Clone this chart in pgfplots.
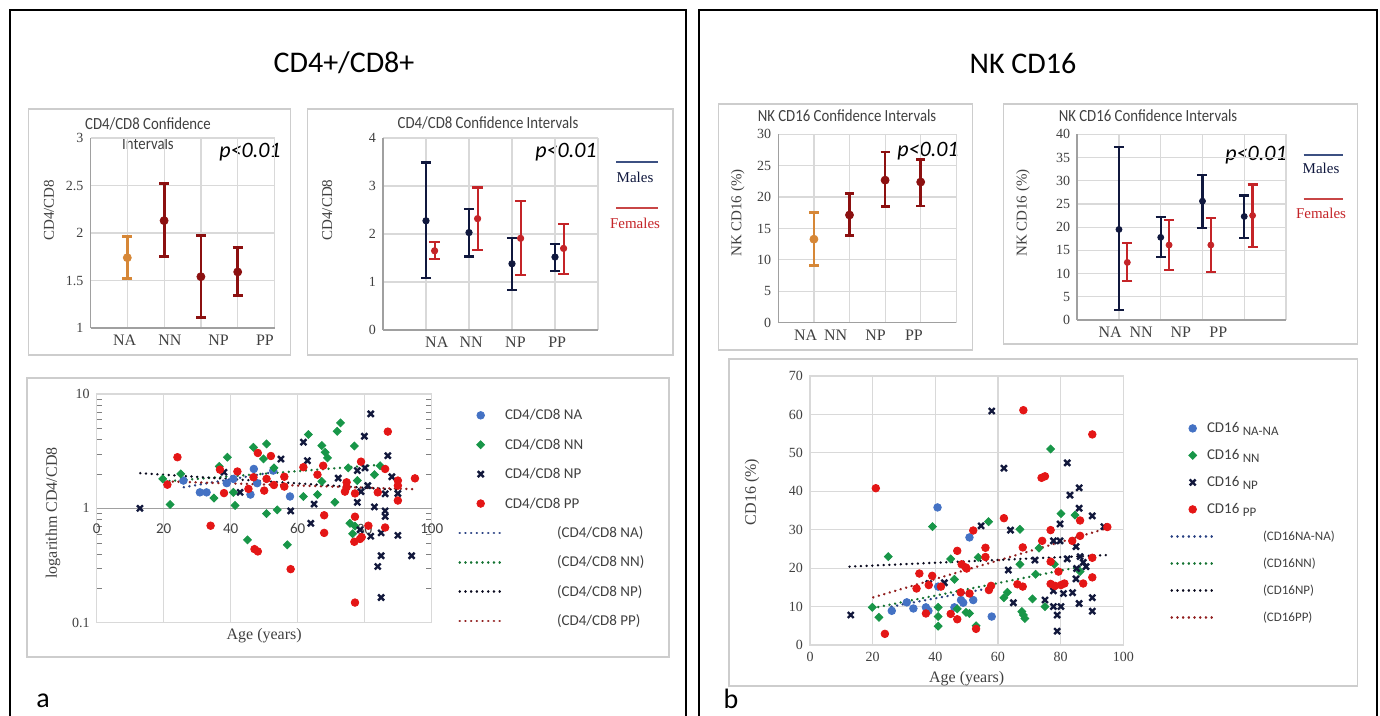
\documentclass[border=0pt]{standalone}
\usepackage{fontspec}
\setmainfont{Liberation Serif}
\newfontfamily\cfont{Carlito}
\newfontfamily\cfontn{Carlito}[FakeStretch=0.87]
\usepackage{pgfplots}
\pgfplotsset{compat=1.18}
\definecolor{cidark}{RGB}{140,16,16}
\definecolor{ciorange}{RGB}{214,135,55}
\definecolor{navy}{RGB}{16,24,62}
\definecolor{fem}{RGB}{196,36,40}
\definecolor{sblue}{RGB}{68,114,196}
\definecolor{sgreen}{RGB}{24,150,72}
\definecolor{sred}{RGB}{228,22,22}
\definecolor{snavy}{RGB}{18,24,60}
\definecolor{gridc}{RGB}{217,217,217}
\definecolor{axc}{RGB}{160,160,160}
\definecolor{boxc}{RGB}{205,205,205}
\definecolor{txt}{RGB}{64,64,64}
\definecolor{tnavy}{RGB}{40,64,130}
\definecolor{tgreen}{RGB}{20,115,50}
\definecolor{tblack}{RGB}{10,10,30}
\definecolor{tred}{RGB}{145,30,30}
\definecolor{mline}{RGB}{60,80,130}
\definecolor{fline}{RGB}{200,70,70}
\pgfplotsset{
  ci/.style={scale only axis, anchor=north west, xmin=0, xmax=5,
    xtick={1,2,3,4,5}, xticklabels={}, xmajorgrids, ymajorgrids,
    grid style={draw=gridc, line width=0.6pt},
    axis x line*=bottom, axis y line*=left,
    axis line style={draw=axc, line width=0.8pt},
    major tick length=0pt,
    yticklabel style={font=\fontsize{7}{8}\selectfont, text=txt},
    /pgf/number format/assume math mode=true,
    extra x tick style={grid=none, major tick length=0pt,
      xticklabel style={font=\fontsize{8}{9}\selectfont, text=txt}},
    ylabel style={font=\fontsize{7.5}{9}\selectfont, text=txt, anchor=center},
    clip=false},
  sc/.style={scale only axis, anchor=north west, xmin=0, xmax=100,
    xtick={0,20,...,100}, xmajorgrids, ymajorgrids,
    grid style={draw=gridc, line width=0.6pt},
    axis line style={draw=gridc, line width=0.6pt},
    major tick length=0pt,
    /pgf/number format/assume math mode=true,
    xlabel style={font=\fontsize{8}{9}\selectfont, text=txt, anchor=center},
    ylabel style={font=\fontsize{8}{9}\selectfont, text=txt, anchor=center},
    clip=false},
  mleg/.style={legend image code/.code={\draw[mark repeat=2,mark phase=2,##1] plot coordinates {(0pt,0pt) (10.5pt,0pt) (21pt,0pt)};}},
  lleg/.style={legend image code/.code={\draw[##1] (0pt,0pt) -- (21pt,0pt);}},
  sNA/.style={only marks, mark=*, mark size=1.9pt, color=sblue, mleg},
  sNN/.style={only marks, mark=square*, mark size=1.4pt, mark options={rotate=45}, color=sgreen, mleg},
  sNP/.style={only marks, mark=x, mark size=2.1pt, line width=1.2pt, color=snavy, mleg},
  sPP/.style={only marks, mark=*, mark size=1.9pt, color=sred, mleg},
  tr/.style={no markers, line width=1.3pt, line cap=round, dash pattern=on 0.05pt off 2.8pt, color=#1, lleg},
}
\begin{document}
\begin{tikzpicture}
\useasboundingbox (0,0) rectangle (690pt,-358pt);
\begin{scope}[x=0.5pt,y=-0.5pt]
  % outer frames
  \draw[line width=1pt] (10,730) -- (10,10) -- (686,10) -- (686,730);
  \draw[line width=1pt] (699,730) -- (699,10) -- (1377,10) -- (1377,730);
  % inner boxes
  \draw[boxc, line width=0.7pt] (28.7,109) rectangle (290.5,355);
  \draw[boxc, line width=0.7pt] (307.7,109) rectangle (673,355);
  \draw[boxc, line width=0.7pt] (27,378) rectangle (669,657);
  \draw[boxc, line width=0.7pt] (718.7,104) rectangle (972.6,350);
  \draw[boxc, line width=0.7pt] (1003.5,104) rectangle (1357.5,344);
  \draw[boxc, line width=0.7pt] (729,359) rectangle (1357.5,686);
  % titles
  \node[font=\cfont\fontsize{15}{18}\selectfont] at (344,63) {CD4+/CD8+};
  \node[font=\cfont\fontsize{15}{18}\selectfont] at (1023,63) {NK CD16};
  \node[font=\cfontn\fontsize{8.5}{10}\selectfont, text=txt] at (148,124) {CD4/CD8 Confidence};
  \node[font=\cfontn\fontsize{8.5}{10}\selectfont, text=txt] at (148,144) {Intervals};
  \node[font=\cfontn\fontsize{8.5}{10}\selectfont, text=txt] at (488,123) {CD4/CD8 Confidence Intervals};
  \node[font=\cfontn\fontsize{8.5}{10}\selectfont, text=txt] at (847,116) {NK CD16 Confidence Intervals};
  \node[font=\cfontn\fontsize{8.5}{10}\selectfont, text=txt] at (1148,116) {NK CD16 Confidence Intervals};
  \node[font=\cfont\itshape\fontsize{11}{13}\selectfont] at (250,152) {p<0.01};
  \node[font=\cfont\itshape\fontsize{11}{13}\selectfont] at (566,152) {p<0.01};
  \node[font=\cfont\itshape\fontsize{11}{13}\selectfont] at (928,151) {p<0.01};
  \node[font=\cfont\itshape\fontsize{11}{13}\selectfont] at (1256,155) {p<0.01};
  % Males / Females keys
  \draw[mline, line width=0.8pt] (616,162) -- (658,162);
  \node[font=\fontsize{7.5}{9}\selectfont, text=navy] at (635,177) {Males};
  \draw[fline, line width=0.8pt] (616,208) -- (658,208);
  \node[font=\fontsize{7.5}{9}\selectfont, text=fem] at (635,223) {Females};
  \draw[mline, line width=0.8pt] (1303.7,155) -- (1343.4,155);
  \node[font=\fontsize{7.5}{9}\selectfont, text=navy] at (1321,168) {Males};
  \draw[fline, line width=0.8pt] (1303.7,199) -- (1343.4,199);
  \node[font=\fontsize{7.5}{9}\selectfont, text=fem] at (1321,213) {Females};
  % panel letters
  \node[font=\cfont\fontsize{14}{16}\selectfont] at (43,701) {a};
  \node[font=\cfont\fontsize{14}{16}\selectfont] at (731,699) {b};
\end{scope}

% ---------- CI-A
\begin{axis}[ci, at={(45.25pt,-69pt)}, width=92pt, height=95pt, ymin=1, ymax=3,
  ytick={1,1.5,2,2.5,3},
  extra x ticks={0.93,2.16,3.48,4.74}, extra x tick labels={NA,NN,NP,PP},
  ylabel={CD4/CD8}, ylabel style={at={(axis description cs:-0.226,0.62)}}]
\addplot[color=ciorange, only marks, mark=*, mark size=2pt,
  error bars/.cd, y dir=both, y explicit,
  error bar style={line width=1.4pt, color=ciorange},
  error mark options={rotate=90, line width=1.4pt, mark size=2.5pt, color=ciorange}]
  coordinates {(1,1.74) += (0,0.225) -= (0,0.215)};
\addplot[color=cidark, only marks, mark=*, mark size=2pt,
  error bars/.cd, y dir=both, y explicit,
  error bar style={line width=1.4pt, color=cidark},
  error mark options={rotate=90, line width=1.4pt, mark size=2.5pt, color=cidark}]
  coordinates {(2,2.13) += (0,0.39) -= (0,0.375)
               (3,1.54) += (0,0.435) -= (0,0.43)
               (4,1.59) += (0,0.26) -= (0,0.25)};
\end{axis}

% ---------- CI-B
\begin{axis}[ci, at={(191.5pt,-69pt)}, width=107.5pt, height=96pt, ymin=0, ymax=4,
  ytick={0,1,2,3,4},
  extra x ticks={1.25,2.05,3.08,4.05}, extra x tick labels={NA,NN,NP,PP},
  ylabel={CD4/CD8}, ylabel style={at={(axis description cs:-0.26,0.625)}}]
\addplot[color=navy, only marks, mark=*, mark size=1.6pt,
  error bars/.cd, y dir=both, y explicit,
  error bar style={line width=1.1pt, color=navy},
  error mark options={rotate=90, line width=1.1pt, mark size=2.6pt, color=navy}]
  coordinates {(1,2.275) += (0,1.215) -= (0,1.195)
               (2,2.03) += (0,0.49) -= (0,0.5)
               (3,1.38) += (0,0.53) -= (0,0.545)
               (4,1.52) += (0,0.27) -= (0,0.29)};
\addplot[color=fem, only marks, mark=*, mark size=1.6pt,
  error bars/.cd, y dir=both, y explicit,
  error bar style={line width=1.1pt, color=fem},
  error mark options={rotate=90, line width=1.1pt, mark size=2.6pt, color=fem}]
  coordinates {(1.2,1.65) += (0,0.19) -= (0,0.175)
               (2.2,2.32) += (0,0.65) -= (0,0.65)
               (3.2,1.91) += (0,0.77) -= (0,0.77)
               (4.2,1.70) += (0,0.51) -= (0,0.53)};
\end{axis}

% ---------- CI-C
\begin{axis}[ci, at={(389.15pt,-67.15pt)}, width=89pt, height=94.2pt, ymin=0, ymax=30,
  ytick={0,5,...,30},
  extra x ticks={0.77,1.61,2.73,3.81}, extra x tick labels={NA,NN,NP,PP},
  ylabel={NK CD16 (\%)}, ylabel style={at={(axis description cs:-0.228,0.582)}}]
\addplot[color=ciorange, only marks, mark=*, mark size=2pt,
  error bars/.cd, y dir=both, y explicit,
  error bar style={line width=1.3pt, color=ciorange},
  error mark options={rotate=90, line width=1.3pt, mark size=2.3pt, color=ciorange}]
  coordinates {(1,13.3) += (0,4.2) -= (0,4.2)};
\addplot[color=cidark, only marks, mark=*, mark size=2pt,
  error bars/.cd, y dir=both, y explicit,
  error bar style={line width=1.3pt, color=cidark},
  error mark options={rotate=90, line width=1.3pt, mark size=2.3pt, color=cidark}]
  coordinates {(2,17.15) += (0,3.4) -= (0,3.25)
               (3,22.7) += (0,4.5) -= (0,4.2)
               (4,22.4) += (0,3.6) -= (0,3.8)};
\end{axis}

% ---------- CI-D
\begin{axis}[ci, at={(538.6pt,-67.15pt)}, width=104.4pt, height=92.85pt, ymin=0, ymax=40,
  ytick={0,5,...,40},
  extra x ticks={0.79,1.53,2.48,3.38}, extra x tick labels={NA,NN,NP,PP},
  ylabel={NK CD16 (\%)}, ylabel style={at={(axis description cs:-0.26,0.576)}}]
\addplot[color=navy, only marks, mark=*, mark size=1.5pt,
  error bars/.cd, y dir=both, y explicit,
  error bar style={line width=1.1pt, color=navy},
  error mark options={rotate=90, line width=1.1pt, mark size=2.5pt, color=navy}]
  coordinates {(1,19.5) += (0,17.8) -= (0,17.4)
               (2,17.8) += (0,4.3) -= (0,4.3)
               (3,25.6) += (0,5.6) -= (0,5.7)
               (4,22.3) += (0,4.5) -= (0,4.7)};
\addplot[color=fem, only marks, mark=*, mark size=1.5pt,
  error bars/.cd, y dir=both, y explicit,
  error bar style={line width=1.1pt, color=fem},
  error mark options={rotate=90, line width=1.1pt, mark size=2.5pt, color=fem}]
  coordinates {(1.2,12.4) += (0,4.1) -= (0,4.0)
               (2.2,16.15) += (0,5.45) -= (0,5.35)
               (3.2,16.15) += (0,5.75) -= (0,5.75)
               (4.2,22.5) += (0,6.7) -= (0,6.7)};
\end{axis}

% ---------- Scatter left (log)
\begin{axis}[sc, at={(48.35pt,-197pt)}, width=167.5pt, height=114.35pt,
  ymode=log, ymin=0.1, ymax=10, ytick={0.1,1,10}, log ticks with fixed point,
  xticklabel style={yshift=53pt, font=\cfont\fontsize{7.5}{8}\selectfont, text=txt},
  yticklabel style={font=\fontsize{7}{8}\selectfont, text=txt},
  extra y ticks={1}, extra y tick labels={},
  extra y tick style={grid style={draw=axc, line width=0.8pt}},
  xlabel={Age (years)}, xlabel style={at={(axis description cs:0.5,-0.058)}},
  ylabel={logarithm CD4/CD8}, ylabel style={at={(axis description cs:-0.13,0.48)}},
  legend style={at={(axis description cs:1.0785,0.95)}, anchor=north west, draw=none, fill=none,
    inner sep=0pt, row sep=5.2pt, font=\cfont\fontsize{7.5}{9}\selectfont, text=txt,
    nodes={text height=6pt, text depth=1.5pt, inner sep=1pt}},
  legend cell align=left]
\addplot[sNA] coordinates {(25.9,1.75) (30.8,1.38) (32.8,1.38) (38.8,1.66) (40.8,1.81) (45.9,1.32) (46.9,2.21) (47.9,1.66) (52.7,2.14) (57.7,1.27)};
\addplot[sNN] coordinates {(19.7,1.81) (21.9,1.08) (25.1,2.0) (35.0,1.23) (36.6,2.33) (39.0,2.80) (40.8,1.38) (41.3,1.06) (45.0,0.53) (46.8,3.42) (49.8,2.71) (50.7,3.66) (50.7,0.90) (52.9,2.26) (53.9,0.97) (56.9,0.48) (61.7,1.27) (63.2,4.42) (65.9,1.32) (67.2,3.54) (67.2,1.72) (68.2,3.09) (68.9,2.76) (71.1,1.13) (71.8,4.72) (72.8,5.59) (75.1,2.26) (75.6,0.74) (76.4,0.60) (76.9,3.51) (77.1,0.70) (77.8,1.75) (82.9,1.97) (84.6,2.36)};
\addplot[sNP] coordinates {(12.9,1.0) (38.0,2.07) (42.8,1.38) (55.0,2.70) (57.9,0.95) (61.7,3.79) (62.9,2.61) (63.9,0.74) (64.9,1.09) (72.1,1.84) (77.8,2.14) (77.8,1.13) (78.9,1.40) (78.6,0.65) (79.9,4.27) (80.1,2.26) (80.9,1.58) (81.8,6.70) (81.8,0.57) (82.9,1.03) (83.9,0.31) (84.9,0.385) (84.9,0.166) (84.9,0.61) (86.1,0.95) (86.1,0.85) (86.1,1.34) (86.9,2.89) (88.1,1.89) (89.9,0.58) (89.9,1.35) (94.0,0.385)};
\addplot[sPP] coordinates {(21.1,1.61) (24.1,2.80) (34.0,0.705) (36.8,2.18) (38.0,1.36) (42.0,2.10) (45.3,1.48) (46.8,1.87) (47.1,0.44) (48.1,0.42) (48.1,3.05) (50.0,1.43) (50.7,1.81) (52.0,2.87) (52.9,1.60) (56.0,1.89) (56.0,1.55) (57.9,0.294) (61.7,2.29) (65.9,1.97) (67.6,2.36) (67.9,0.87) (67.9,0.61) (74.1,1.40) (74.6,1.69) (74.6,1.53) (76.9,0.51) (77.1,0.150) (77.1,0.845) (77.1,1.35) (78.6,0.54) (79.1,0.56) (78.9,2.56) (81.1,0.705) (83.9,1.38) (86.1,2.21) (86.1,0.68) (86.9,4.69) (89.9,1.75) (89.9,1.58) (89.9,1.17) (95.0,1.83)};
\addplot[tr=tnavy] coordinates {(26,1.53) (53,2.08)};
\addplot[tr=tgreen] coordinates {(20,1.72) (86,2.42)};
\addplot[tr=tblack] coordinates {(13,2.03) (90,1.45)};
\addplot[tr=tred] coordinates {(21,1.72) (95,1.47)};
\legend{CD4/CD8 NA, CD4/CD8 NN, CD4/CD8 NP, CD4/CD8 PP,
  \hspace{26pt}(CD4/CD8 NA), \hspace{26pt}(CD4/CD8 NN), \hspace{26pt}(CD4/CD8 NP), \hspace{26pt}(CD4/CD8 PP)}
\end{axis}

% ---------- Scatter right
\begin{axis}[sc, at={(405pt,-188pt)}, width=156.65pt, height=134.5pt,
  ymin=0, ymax=70, ytick={0,10,...,70},
  tick label style={font=\fontsize{7}{8}\selectfont, text=txt},
  xlabel={Age (years)}, xlabel style={at={(axis description cs:0.5,-0.126)}},
  ylabel={CD16 (\%)}, ylabel style={at={(axis description cs:-0.185,0.569)}},
  legend style={at={(axis description cs:1.149,0.842)}, anchor=north west, draw=none, fill=none,
    inner sep=0pt, row sep=4pt, font=\cfont\fontsize{7.5}{9}\selectfont, text=txt,
    nodes={text height=6pt, text depth=1.5pt, inner sep=1pt}},
  legend cell align=left]
\addplot[sNA] coordinates {(26.1,8.9) (30.9,11.1) (33.0,9.5) (37.0,9.8) (37.8,8.9) (40.7,35.8) (40.9,15.2) (46.1,9.8) (48.2,11.7) (48.9,11.0) (50.9,28.0) (52.1,11.7) (58.0,7.4)};
\addplot[sNN] coordinates {(19.9,9.8) (22.0,7.2) (25.0,23.0) (39.1,30.8) (40.9,9.8) (40.9,7.4) (40.9,4.9) (44.9,22.4) (46.1,17.1) (47.0,9.4) (49.8,8.5) (50.9,8.2) (53.0,5.0) (53.7,22.8) (57.0,32.1) (61.9,12.3) (63.0,13.7) (67.0,21.0) (67.0,30.1) (67.6,8.7) (68.1,7.8) (68.6,6.9) (71.0,12.0) (72.0,18.4) (73.1,25.2) (75.0,10.0) (76.8,51.0) (78.0,21.0) (80.1,34.2) (84.6,33.8) (86.2,19.1)};
\addplot[sNP] coordinates {(13.0,7.8) (37.9,16.0) (42.9,16.2) (54.6,31.0) (58.0,60.9) (61.9,46.0) (63.3,19.5) (64.0,29.9) (64.9,11.0) (71.8,22.1) (75.0,11.7) (77.7,27.1) (77.7,14.1) (77.7,10.0) (78.9,7.8) (78.9,3.6) (79.8,27.1) (79.8,31.5) (80.1,10.0) (80.9,13.4) (82.1,47.4) (82.1,22.4) (83.0,39.0) (83.8,13.6) (84.9,25.6) (84.9,17.2) (85.1,19.9) (85.9,40.9) (85.9,35.6) (85.9,10.8) (86.2,23.0) (87.2,21.5) (88.1,20.4) (90.1,33.6) (90.1,12.3) (90.1,8.8) (93.8,30.8)};
\addplot[sPP] coordinates {(21.0,40.8) (23.9,2.9) (34.0,14.7) (34.9,18.6) (37.0,8.2) (37.9,15.6) (39.0,18.0) (41.8,15.2) (44.9,8.1) (47.0,6.7) (47.0,24.5) (48.1,13.7) (48.4,21.0) (49.7,20.2) (50.0,19.9) (50.9,13.4) (52.1,29.8) (53.0,4.2) (56.0,25.3) (56.0,22.9) (57.1,14.3) (57.8,15.4) (61.9,33.0) (66.2,15.8) (67.9,15.2) (67.9,25.4) (68.1,61.1) (73.9,43.5) (75.0,43.9) (74.1,27.1) (76.8,29.9) (76.8,21.7) (76.8,15.9) (78.2,15.4) (79.3,19.1) (80.1,15.6) (81.2,16.0) (83.7,27.1) (86.2,32.4) (86.2,28.4) (87.2,16.0) (90.1,54.8) (90.1,22.7) (90.1,17.6) (94.9,30.7)};
\addplot[tr=tnavy] coordinates {(26,10.0) (58,14.9)};
\addplot[tr=tgreen] coordinates {(20,9.6) (87,20.5)};
\addplot[tr=tblack] coordinates {(12.6,20.4) (94.7,23.4)};
\addplot[tr=tred] coordinates {(20.2,12.4) (94.9,30.4)};
\legend{\hspace{-5pt}CD16 \raisebox{-1.5pt}{\fontsize{6.5}{7}\selectfont NA-NA},
  \hspace{-5pt}CD16 \raisebox{-1.5pt}{\fontsize{6.5}{7}\selectfont NN},
  \hspace{-5pt}CD16 \raisebox{-1.5pt}{\fontsize{6.5}{7}\selectfont NP},
  \hspace{-5pt}CD16 \raisebox{-1.5pt}{\fontsize{6.5}{7}\selectfont PP},
  \hspace{23pt}{\fontsize{6.5}{7}\selectfont (CD16NA-NA)},
  \hspace{23pt}{\fontsize{6.5}{7}\selectfont (CD16NN)},
  \hspace{23pt}{\fontsize{6.5}{7}\selectfont (CD16NP)},
  \hspace{23pt}{\fontsize{6.5}{7}\selectfont (CD16PP)}}
\end{axis}
\end{tikzpicture}
\end{document}
